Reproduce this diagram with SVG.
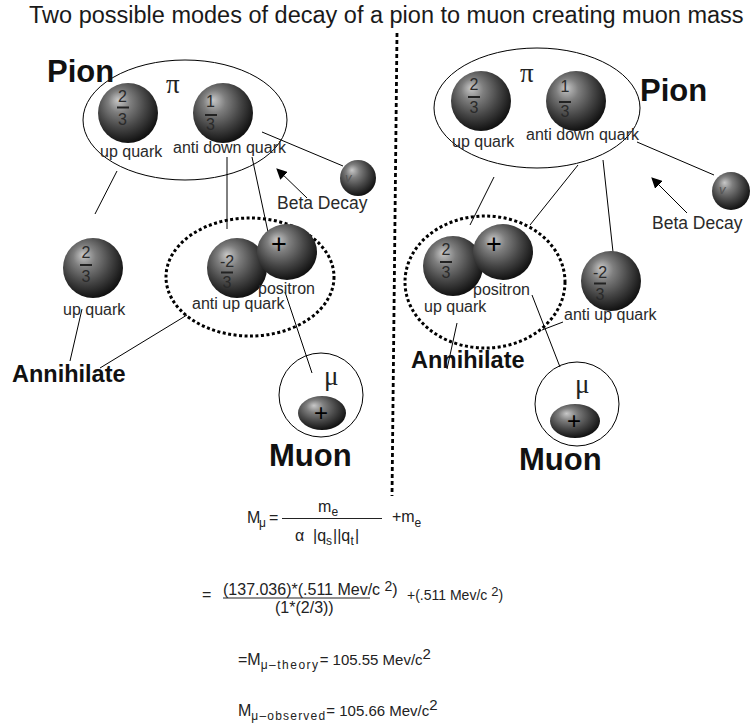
<svg xmlns="http://www.w3.org/2000/svg" width="752" height="726" viewBox="0 0 752 726">
  <style>
    text { font-family: "Liberation Sans", Arial, sans-serif; fill: #1a1a1a; }
    .title { font-size: 23.5px; }
    .lbl { font-size: 16px; fill: #2a2a2a; }
    .beta { font-size: 17.5px; fill: #2a2a2a; }
    .big { font-size: 31px; font-weight: bold; fill: #111; }
    .ann { font-size: 23.5px; font-weight: bold; fill: #111; }
    .frac { font-size: 16px; fill: #2a2a2a; text-anchor: middle; }
    .greek { font-family: "Liberation Serif", "Times New Roman", serif; font-size: 27px; fill: #222; }
    .plus { font-size: 27px; fill: #000; text-anchor: middle; }
    .plus-s { font-size: 24px; fill: #000; text-anchor: middle; }
    .nu { font-size: 13px; fill: #555; font-style: italic; }
    .eq { font-size: 16px; fill: #222; }
    .eq-s { font-size: 14px; fill: #222; }
    .sub { font-size: 12px; fill: #222; }
    .ring { fill: none; stroke: #000; stroke-width: 1; }
    .dots { fill: none; stroke: #000; stroke-width: 3; stroke-dasharray: 3 2.5; }
    .ball { fill: url(#ball); }
    .bar { stroke: #222; stroke-width: 2; }
    .wire { stroke: #000; stroke-width: 1; fill: none; }
  </style>
  <defs>
    <radialGradient id="ball" cx="0.42" cy="0.38" r="0.62" fx="0.33" fy="0.28">
      <stop offset="0" stop-color="#c8c8c8"/>
      <stop offset="0.3" stop-color="#7e7e7e"/>
      <stop offset="0.65" stop-color="#464646"/>
      <stop offset="1" stop-color="#121212"/>
    </radialGradient>
    <marker id="head" viewBox="0 0 10 10" refX="9" refY="5" markerWidth="11" markerHeight="11" markerUnits="userSpaceOnUse" orient="auto">
      <path d="M0,0 L10,5 L0,10 z" fill="#000"/>
    </marker>
  </defs>

  <rect width="752" height="726" fill="#fff"/>

  <text class="title" x="29" y="23">Two possible modes of decay of a pion to muon creating muon mass</text>

  <!-- separator between the two decay modes -->
  <line x1="397" y1="33" x2="392" y2="496" stroke="#000" stroke-width="2.8" stroke-dasharray="4 3"/>

  <!-- connectors -->
  <g id="connectors">
    <line class="wire" x1="262" y1="132" x2="343" y2="166"/>
    <line class="wire" x1="117" y1="171" x2="95" y2="214"/>
    <line class="wire" x1="227" y1="157" x2="227" y2="229"/>
    <line class="wire" x1="252" y1="157" x2="268" y2="232"/>
    <line class="wire" x1="285" y1="292" x2="312" y2="373"/>
    <line class="wire" x1="82" y1="309" x2="70" y2="361"/>
    <line class="wire" x1="187" y1="315" x2="100" y2="368"/>
    <line class="wire" x1="307" y1="198" x2="277" y2="169" marker-end="url(#head)"/>

    <line class="wire" x1="637" y1="142" x2="714" y2="175"/>
    <line class="wire" x1="494" y1="177" x2="470" y2="225"/>
    <line class="wire" x1="578" y1="165" x2="530" y2="225"/>
    <line class="wire" x1="603" y1="160" x2="613" y2="252"/>
    <line class="wire" x1="532" y1="295" x2="560" y2="367"/>
    <line class="wire" x1="563" y1="322" x2="542" y2="330"/>
    <line class="wire" x1="457" y1="323" x2="447" y2="369"/>
    <line class="wire" x1="687" y1="213" x2="652" y2="178" marker-end="url(#head)"/>
  </g>

  <!-- ===== left decay mode ===== -->
  <g id="pion-left">
    <ellipse class="ring" cx="185" cy="120" rx="102" ry="60"/>
    <text class="big" x="47" y="82">Pion</text>
    <text class="greek" x="166" y="93">π</text>
  </g>
  <g id="up-quark-left">
    <circle class="ball" cx="128" cy="113" r="30"/>
    <text class="frac" x="122.5" y="102">2</text>
    <line class="bar" x1="117" y1="107.5" x2="129" y2="107.5"/>
    <text class="frac" x="122.5" y="125">3</text>
    <text class="lbl" x="100" y="157">up quark</text>
  </g>
  <g id="anti-down-quark-left">
    <circle class="ball" cx="223" cy="113" r="30"/>
    <text class="frac" x="210.5" y="107">1</text>
    <line class="bar" x1="205" y1="115" x2="217" y2="115"/>
    <text class="frac" x="210.5" y="130">3</text>
    <text class="lbl" x="173" y="153">anti down quark</text>
  </g>
  <g id="neutrino-left">
    <circle class="ball" cx="358" cy="178" r="18"/>
    <text class="nu" x="345" y="182">v</text>
  </g>
  <g id="beta-left">
    <text class="beta" x="277" y="209">Beta Decay</text>
  </g>
  <g id="up-quark-left-2">
    <circle class="ball" cx="93" cy="268" r="30"/>
    <text class="frac" x="86" y="258">2</text>
    <line class="bar" x1="80" y1="265" x2="92" y2="265"/>
    <text class="frac" x="86" y="282">3</text>
    <text class="lbl" x="63" y="315">up quark</text>
  </g>
  <g id="pair-left">
    <ellipse class="dots" cx="250" cy="277" rx="84" ry="59"/>
    <circle class="ball" cx="237" cy="268" r="30"/>
    <text class="frac" x="227" y="267">-2</text>
    <line class="bar" x1="221" y1="272.5" x2="233" y2="272.5"/>
    <text class="frac" x="227" y="288">3</text>
    <ellipse class="ball" cx="287" cy="252" rx="30" ry="28"/>
    <text class="plus" x="279" y="253">+</text>
    <text class="lbl" x="258" y="294">positron</text>
    <text class="lbl" x="192" y="309">anti up quark</text>
  </g>
  <g id="annihilate-left">
    <text class="ann" x="12" y="382">Annihilate</text>
  </g>
  <g id="muon-left">
    <circle class="ring" cx="321" cy="395" r="42"/>
    <text class="greek" x="324" y="385">μ</text>
    <ellipse class="ball" cx="322" cy="413" rx="24" ry="17"/>
    <text class="plus-s" x="321" y="421">+</text>
    <text class="big" x="269" y="466">Muon</text>
  </g>

  <!-- ===== right decay mode ===== -->
  <g id="pion-right">
    <ellipse class="ring" cx="537" cy="108" rx="103" ry="60"/>
    <text class="big" x="640" y="101">Pion</text>
    <text class="greek" x="520" y="82">π</text>
  </g>
  <g id="up-quark-right">
    <circle class="ball" cx="481" cy="101" r="30"/>
    <text class="frac" x="474" y="90">2</text>
    <line class="bar" x1="468" y1="97" x2="480" y2="97"/>
    <text class="frac" x="474" y="113">3</text>
    <text class="lbl" x="452" y="147">up quark</text>
  </g>
  <g id="anti-down-quark-right">
    <circle class="ball" cx="576" cy="101" r="30"/>
    <text class="frac" x="565" y="92">1</text>
    <line class="bar" x1="559" y1="102" x2="571" y2="102"/>
    <text class="frac" x="565" y="117">3</text>
    <text class="lbl" x="526" y="140">anti down quark</text>
  </g>
  <g id="neutrino-right">
    <circle class="ball" cx="731" cy="191" r="19"/>
    <text class="nu" x="719" y="194">v</text>
  </g>
  <g id="beta-right">
    <text class="beta" x="652" y="229">Beta Decay</text>
  </g>
  <g id="pair-right">
    <ellipse class="dots" cx="485" cy="282" rx="80" ry="66"/>
    <circle class="ball" cx="453" cy="266" r="30"/>
    <text class="frac" x="446" y="255">2</text>
    <line class="bar" x1="440" y1="262" x2="452" y2="262"/>
    <text class="frac" x="446" y="278">3</text>
    <ellipse class="ball" cx="503" cy="252" rx="30" ry="28"/>
    <text class="plus" x="494" y="253">+</text>
    <text class="lbl" x="473" y="295">positron</text>
    <text class="lbl" x="424" y="312">up quark</text>
  </g>
  <g id="anti-up-quark-right">
    <circle class="ball" cx="611" cy="281" r="30"/>
    <text class="frac" x="600" y="278">-2</text>
    <line class="bar" x1="594" y1="283.5" x2="606" y2="283.5"/>
    <text class="frac" x="600" y="300">3</text>
    <text class="lbl" x="564" y="320">anti up quark</text>
  </g>
  <g id="annihilate-right">
    <text class="ann" x="411" y="368">Annihilate</text>
  </g>
  <g id="muon-right">
    <circle class="ring" cx="577" cy="404" r="42"/>
    <text class="greek" x="575" y="393">μ</text>
    <ellipse class="ball" cx="575" cy="421" rx="25" ry="17"/>
    <text class="plus-s" x="574" y="429">+</text>
    <text class="big" x="519" y="470">Muon</text>
  </g>

  <!-- ===== muon mass formula ===== -->
  <g id="formula">
    <!-- M_mu = m_e / (alpha |q_s||q_t|) + m_e -->
    <text class="eq" x="247" y="523">M</text>
    <text class="sub" x="259" y="527">μ</text>
    <text class="eq" x="269" y="523">=</text>
    <line x1="282" y1="518.5" x2="382" y2="518.5" stroke="#222" stroke-width="1"/>
    <text class="eq" x="318" y="512">m</text>
    <text class="sub" x="331.5" y="516">e</text>
    <text class="eq" x="295" y="541">α</text>
    <text class="eq" x="313" y="541">|q</text>
    <text class="sub" x="326" y="545">s</text>
    <text class="eq" x="333" y="541">||q</text>
    <text class="sub" x="350.5" y="545">t</text>
    <text class="eq" x="355" y="541">|</text>
    <text class="eq" x="392" y="522">+m</text>
    <text class="sub" x="414.5" y="527">e</text>

    <!-- numeric substitution -->
    <text class="eq" x="202" y="600">=</text>
    <text class="eq" x="223" y="595">(137.036)*(.511 Mev/c <tspan font-size="14" dy="-4">2</tspan><tspan dy="4">)</tspan></text>
    <line x1="223" y1="598" x2="370" y2="598" stroke="#222" stroke-width="1"/>
    <text class="eq" x="275" y="613">(1*(2/3))</text>
    <text class="eq-s" x="407" y="600">+(.511 Mev/c <tspan font-size="13" dy="-4">2</tspan><tspan dy="4">)</tspan></text>

    <!-- results -->
    <text class="eq" x="238" y="665">=M<tspan class="sub" dy="4" letter-spacing="1.5">μ–theory</tspan><tspan dy="-4" font-size="15">= 105.55 Mev/c</tspan><tspan font-size="15" dy="-6">2</tspan></text>
    <text class="eq" x="238" y="716">M<tspan class="sub" dy="4" letter-spacing="1.2">μ–observed</tspan><tspan dy="-4" font-size="15">= 105.66 Mev/c</tspan><tspan font-size="15" dy="-6">2</tspan></text>
  </g>
</svg>
